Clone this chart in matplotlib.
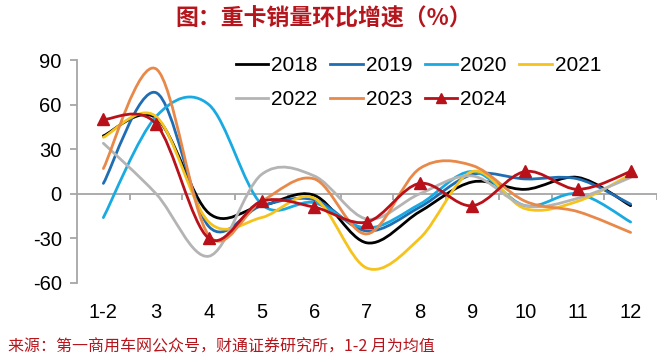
import numpy as np
import matplotlib
matplotlib.use('Agg')
import matplotlib.pyplot as plt
from matplotlib.path import Path
from matplotlib.patches import PathPatch
from matplotlib.lines import Line2D

plt.rcParams['font.family'] = ['Liberation Sans', 'DejaVu Sans']
plt.rcParams['axes.unicode_minus'] = False

# 月份（1-2月为均值）
months = ['1-2', '3', '4', '5', '6', '7', '8', '9', '10', '11', '12']

# 各年环比增速（%），从图上读取的估计值
y2018 = [39, 51, -13, -8, -1, -33, -12, 8, 3, 11, -8]
y2019 = [7, 68, -22, -8, -4, -25, -9, 13, 10, 10, -7]
y2020 = [-16, 52, 60, -7, -6, -23, -7, 15, -8, 0, -19]
y2021 = [38, 52, -19, -16, -3, -50, -30, 15, -10, -5, 13]
y2022 = [34, 0, -42, 13, 12, -17, 0, 12, -8, -3, 11]
y2023 = [17, 84, -28, -5, 10, -27, 17, 19, -5, -12, -26]
y2024 = [50, 47, -30, -5, -9, -19, 7, -8, 15, 3, 15]

years = ['2018', '2019', '2020', '2021', '2022', '2023', '2024']
series = [y2018, y2019, y2020, y2021, y2022, y2023, y2024]
colors = ['#000000', '#1F6DB2', '#1AAAE2', '#F5C31C', '#B4B4B4', '#E8894A', '#B8111A']

red = '#B5161D'


def smooth(xs, ys):
    # 类似 Excel 平滑线：Catmull-Rom 转三次贝塞尔
    pts = np.column_stack([xs, ys]).astype(float)
    n = len(pts)
    verts = [pts[0]]
    codes = [Path.MOVETO]
    for i in range(n - 1):
        p0 = pts[max(i - 1, 0)]
        p1 = pts[i]
        p2 = pts[i + 1]
        p3 = pts[min(i + 2, n - 1)]
        verts += [p1 + (p2 - p0) / 6, p2 - (p3 - p1) / 6, p2]
        codes += [Path.CURVE4] * 3
    return Path(verts, codes)


fig = plt.figure(figsize=(6.6, 3.61), dpi=100)
ax = fig.add_axes([77 / 660, 1 - 283 / 361, 580 / 660, 223 / 361])

x = np.arange(len(months))
gray = '#A6A6A6'
ax.axhline(0, color=gray, lw=1.3, zorder=1)
ax.vlines(np.arange(len(months)) + 0.5, -4, 0, color=gray, lw=1.3, zorder=1)

handles = {}
for yr, ys, c in zip(years, series, colors):
    ax.add_patch(PathPatch(smooth(x, ys), fill=False, edgecolor=c, lw=2.0,
                           capstyle='round', zorder=3 if yr == '2024' else 2))
    if yr == '2024':
        ax.plot(x, ys, linestyle='none', marker='^', ms=8, color=c, zorder=4)
        handles[yr] = Line2D([], [], color=c, lw=2.0, marker='^', ms=7)
    else:
        handles[yr] = Line2D([], [], color=c, lw=2.0)

ax.set_xlim(-0.5, len(months) - 0.5)
ax.set_ylim(-60, 90)
ax.set_yticks([-60, -30, 0, 30, 60, 90])
ax.set_xticks(x)
ax.set_xticklabels(months)
ax.tick_params(axis='y', direction='out', length=5, width=1.3, color=gray,
               labelsize=14.5, pad=6)
ax.tick_params(axis='x', length=0, labelsize=14.5, pad=14.5)
for s in ['top', 'right', 'bottom']:
    ax.spines[s].set_visible(False)
ax.spines['left'].set_color(gray)
ax.spines['left'].set_linewidth(1.3)

order = ['2018', '2022', '2019', '2023', '2020', '2024', '2021']
ax.legend([handles[k] for k in order], order, ncol=4, frameon=False,
          loc='upper left', bbox_to_anchor=(236 / 660, 1 - 56 / 361),
          bbox_transform=fig.transFigure, fontsize=15, handlelength=1.55,
          handletextpad=0.15, columnspacing=0.6, labelspacing=0.74,
          borderpad=0, borderaxespad=0)

fig.text(0.49, 1 - 19 / 361, '图：重卡销量环比增速（%）', ha='center', va='center',
         fontsize=16.5, color=red, fontweight='bold',
         family=['Noto Sans CJK SC', 'DejaVu Sans'])
fig.text(8 / 660, 1 - 347 / 361, '来源：第一商用车网公众号，财通证券研究所，1-2 月为均值',
         ha='left', va='center', fontsize=11.5, color=red,
         family=['Noto Sans CJK SC', 'DejaVu Sans'])

fig.savefig('out.png', dpi=100)
